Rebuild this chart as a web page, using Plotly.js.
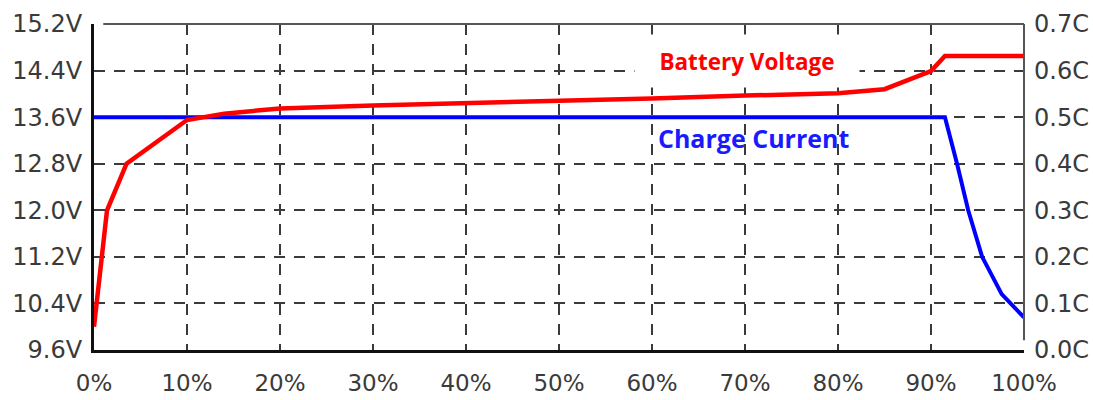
<!DOCTYPE html>
<html>
<head>
<meta charset="utf-8">
<script src="https://cdn.plot.ly/plotly-3.0.1.min.js"></script>
<style>html,body{margin:0;padding:0;background:#fff;}#chart{width:1093px;height:400px;}</style>
</head>
<body>
<div id="chart"></div>
<script>
// Data
const voltageX = [0, 1.4, 3.5, 10, 14, 20, 30, 40, 50, 60, 70, 80, 85, 90, 91.5, 100];
const voltageV = [10.0, 12.0, 12.8, 13.55, 13.66, 13.75, 13.8, 13.84, 13.87, 13.92, 13.97, 14.01, 14.08, 14.39, 14.65, 14.65];
const currentX = [0, 91.5, 92.8, 94.0, 95.5, 97.6, 100];
const currentC = [0.5, 0.5, 0.4, 0.3, 0.2, 0.12, 0.07];
const xTickVals = [0, 10, 20, 30, 40, 50, 60, 70, 80, 90, 100];
const vTickVals = [9.6, 10.4, 11.2, 12.0, 12.8, 13.6, 14.4, 15.2];
const cTickVals = [0.0, 0.1, 0.2, 0.3, 0.4, 0.5, 0.6, 0.7];
const labelVoltage = 'Battery Voltage';
const labelCurrent = 'Charge Current';

const tickFont = {family: 'DejaVu Sans, Verdana, sans-serif', size: 24, color: '#3a3a3a'};
const xTickFont = {family: 'DejaVu Sans, Verdana, sans-serif', size: 23, color: '#3a3a3a'};
const gridDash = '11px,9px';

const traces = [
  {x: currentX, y: currentC, type: 'scatter', mode: 'lines', yaxis: 'y',
   line: {color: '#0000ff', width: 4}, hoverinfo: 'skip'},
  {x: voltageX, y: voltageV, type: 'scatter', mode: 'lines', yaxis: 'y2',
   line: {color: '#ff0000', width: 4.5}, hoverinfo: 'skip'}
];

const layout = {
  width: 1093, height: 400,
  margin: {l: 94, r: 69, t: 24, b: 50},
  paper_bgcolor: '#ffffff', plot_bgcolor: '#ffffff',
  showlegend: false,
  xaxis: {
    range: [0, 100], tickvals: xTickVals, ticktext: xTickVals.map(v => v + '%'),
    showline: true, linecolor: '#111', linewidth: 3,
    showgrid: true, gridcolor: '#3a3a3a', gridwidth: 2, griddash: gridDash,
    zeroline: false, ticks: '', tickfont: xTickFont, ticklabelstandoff: 10, fixedrange: true
  },
  yaxis: {
    side: 'right', range: [0, 0.7], tickvals: cTickVals,
    ticktext: cTickVals.map(v => v.toFixed(1) + 'C'),
    showline: false, showgrid: true, gridcolor: '#3a3a3a', gridwidth: 2, griddash: gridDash,
    zeroline: false, ticks: '', tickfont: tickFont, ticklabelstandoff: 9, fixedrange: true
  },
  yaxis2: {
    side: 'left', overlaying: 'y', range: [9.6, 15.2], tickvals: vTickVals,
    ticktext: vTickVals.map(v => v.toFixed(1) + 'V'),
    showline: true, linecolor: '#111', linewidth: 3, showgrid: false,
    zeroline: false, ticks: '', tickfont: tickFont, ticklabelstandoff: 4, fixedrange: true
  },
  shapes: [
    {type: 'line', xref: 'paper', yref: 'paper', x0: 0.01, x1: 1, y0: 1, y1: 1,
     line: {color: '#555', width: 2}},
    {type: 'line', xref: 'paper', yref: 'paper', x0: 1, x1: 1, y0: 0.03, y1: 1,
     line: {color: '#555', width: 2}}
  ],
  annotations: [
    {x: 70.2, y: 14.56, xref: 'x', yref: 'y2', text: '<b>' + labelVoltage + '</b>', showarrow: false,
     font: {family: 'Open Sans, Lato, sans-serif', size: 22.5, color: '#ff0000'},
     bgcolor: '#ffffff', width: 222, height: 50},
    {x: 70.9, y: 0.455, xref: 'x', yref: 'y', text: '<b>' + labelCurrent + '</b>', showarrow: false,
     font: {family: 'Open Sans, Lato, sans-serif', size: 25, color: '#1a1aff'}}
  ]
};

Plotly.newPlot('chart', traces, layout, {staticPlot: true, displayModeBar: false});
</script>
</body>
</html>
